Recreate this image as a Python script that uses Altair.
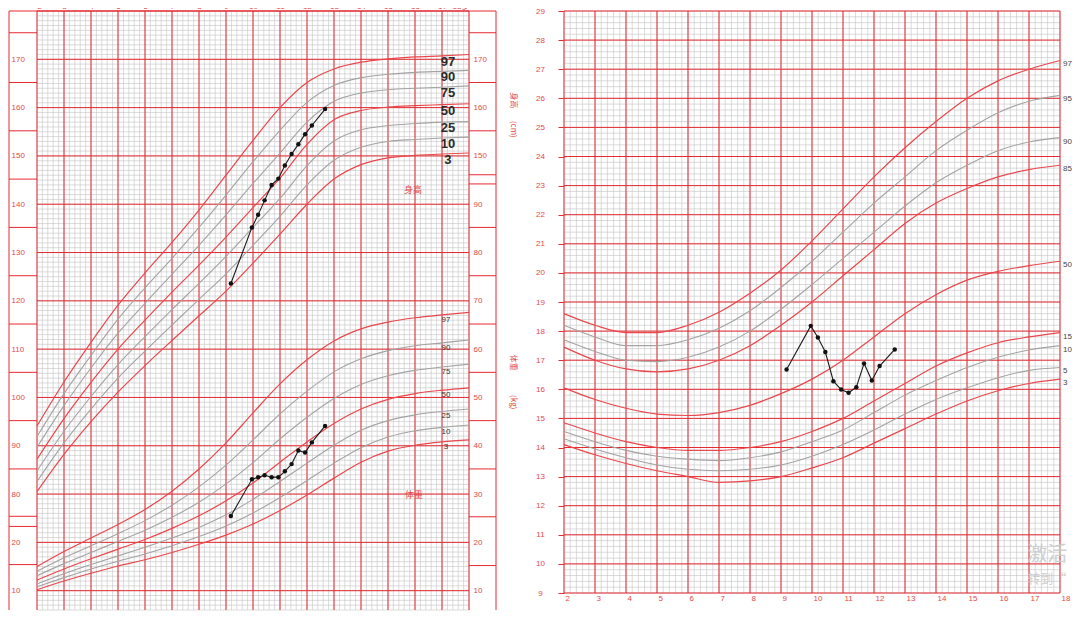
import altair as alt
import numpy as np
import pandas as pd

# ---------------- data ----------------
AGES = list(range(2, 19))

PCT_HW = ["3", "10", "25", "50", "75", "90", "97"]
RED_HW = ["3", "50", "97"]

HEIGHT = {
    "3":  [80.5, 88.2, 95.0, 101.1, 106.6, 111.8, 116.9, 122.0, 127.8, 133.8, 140.0, 145.2, 148.2, 149.6, 150.1, 150.4, 150.6],
    "10": [82.6, 90.6, 97.6, 104.0, 109.6, 115.0, 120.3, 125.6, 131.5, 137.5, 144.0, 149.1, 151.8, 153.0, 153.4, 153.7, 153.9],
    "25": [84.8, 93.0, 100.2, 106.8, 112.6, 118.2, 123.6, 129.2, 135.2, 141.2, 148.0, 153.1, 155.4, 156.3, 156.7, 157.0, 157.1],
    "50": [87.2, 95.6, 103.1, 110.0, 116.0, 121.8, 127.4, 133.2, 139.3, 145.4, 152.4, 157.5, 159.4, 160.1, 160.4, 160.6, 160.8],
    "75": [89.7, 98.3, 106.1, 113.3, 119.5, 125.5, 131.5, 137.8, 144.3, 150.6, 157.0, 161.3, 163.0, 163.7, 164.0, 164.2, 164.5],
    "90": [91.9, 100.8, 108.7, 116.2, 122.7, 128.8, 135.2, 141.9, 148.8, 155.3, 161.1, 164.6, 166.2, 166.9, 167.3, 167.5, 167.7],
    "97": [94.1, 103.2, 111.4, 119.1, 125.8, 132.1, 138.8, 146.0, 153.2, 160.0, 165.2, 168.0, 169.4, 170.1, 170.5, 170.7, 171.0],
}

WEIGHT = {
    "3":  [10.2, 12.0, 13.6, 15.1, 16.4, 17.9, 19.6, 21.5, 23.8, 26.6, 29.8, 33.3, 36.6, 38.9, 40.1, 40.8, 41.2],
    "10": [10.8, 12.7, 14.5, 16.1, 17.6, 19.3, 21.2, 23.4, 26.1, 29.3, 32.8, 36.4, 39.6, 41.8, 43.1, 43.8, 44.3],
    "25": [11.4, 13.5, 15.4, 17.2, 19.0, 20.9, 23.1, 25.7, 28.9, 32.6, 36.4, 40.1, 43.2, 45.2, 46.4, 47.1, 47.6],
    "50": [12.2, 14.5, 16.6, 18.6, 20.6, 22.9, 25.5, 28.6, 32.3, 36.6, 40.8, 44.6, 47.6, 49.6, 50.8, 51.5, 52.0],
    "75": [13.1, 15.6, 17.9, 20.2, 22.5, 25.2, 28.3, 32.1, 36.5, 41.4, 45.9, 49.8, 52.7, 54.5, 55.6, 56.3, 56.9],
    "90": [14.0, 16.8, 19.3, 21.8, 24.5, 27.7, 31.5, 36.0, 41.2, 46.6, 51.3, 55.3, 58.0, 59.7, 60.7, 61.3, 61.9],
    "97": [15.0, 18.1, 20.9, 23.7, 26.8, 30.6, 35.2, 40.6, 46.8, 52.8, 57.8, 61.7, 64.2, 65.6, 66.5, 67.1, 67.6],
}

PCT_BMI = ["3", "5", "10", "15", "50", "85", "90", "95", "97"]
RED_BMI = ["3", "15", "50", "85", "97"]

BMI = {
    "3":  [14.1, 13.75, 13.45, 13.2, 13.0, 12.8, 12.85, 13.0, 13.3, 13.65, 14.15, 14.65, 15.15, 15.6, 15.95, 16.2, 16.35],
    "5":  [14.3, 13.95, 13.65, 13.4, 13.25, 13.2, 13.25, 13.4, 13.7, 14.1, 14.6, 15.15, 15.65, 16.05, 16.4, 16.65, 16.75],
    "10": [14.55, 14.2, 13.9, 13.7, 13.6, 13.55, 13.65, 13.85, 14.2, 14.6, 15.2, 15.8, 16.3, 16.75, 17.1, 17.35, 17.5],
    "15": [14.85, 14.5, 14.2, 14.0, 13.9, 13.9, 14.0, 14.2, 14.55, 15.0, 15.6, 16.2, 16.8, 17.25, 17.6, 17.8, 17.95],
    "50": [16.05, 15.65, 15.35, 15.15, 15.1, 15.2, 15.45, 15.85, 16.35, 17.0, 17.8, 18.6, 19.25, 19.75, 20.05, 20.25, 20.4],
    "85": [17.45, 17.0, 16.7, 16.6, 16.7, 17.0, 17.5, 18.2, 19.0, 19.9, 20.8, 21.7, 22.4, 22.9, 23.3, 23.55, 23.7],
    "90": [17.7, 17.3, 17.0, 16.95, 17.1, 17.45, 18.0, 18.75, 19.6, 20.5, 21.4, 22.3, 23.1, 23.7, 24.2, 24.5, 24.65],
    "95": [18.2, 17.8, 17.5, 17.5, 17.7, 18.1, 18.7, 19.5, 20.4, 21.4, 22.4, 23.3, 24.2, 24.9, 25.5, 25.9, 26.1],
    "97": [18.6, 18.2, 17.95, 17.95, 18.2, 18.65, 19.3, 20.1, 21.1, 22.2, 23.3, 24.3, 25.2, 26.0, 26.6, 27.0, 27.3],
}

OBS_AGE = [9.18, 9.96, 10.19, 10.43, 10.69, 10.94, 11.18, 11.43, 11.68, 11.93, 12.18, 12.67]
OBS_HEIGHT = [123.6, 135.2, 137.8, 140.8, 144.0, 145.3, 148.0, 150.4, 152.4, 154.5, 156.3, 159.7]
OBS_WEIGHT = [25.45, 33.05, 33.5, 33.9, 33.5, 33.5, 34.7, 36.2, 39.0, 38.6, 40.7, 44.1]
OBS_BMI = [16.68, 18.18, 17.78, 17.28, 16.28, 15.99, 15.88, 16.07, 16.89, 16.30, 16.80, 17.37]

H_LABELS = [80, 90, 100, 110, 120, 130, 140, 150, 160, 170]
W_LABELS_LEFT = [10, 20]
H_LABELS_RIGHT = [150, 160, 170]
W_LABELS_RIGHT = [10, 20, 30, 40, 50, 60, 70, 80, 90]
BMI_LABELS = list(range(9, 30))

# ---------------- style ----------------
RED = "#e52a30"
RED_CURVE = "#e9474c"
GRAY_CURVE = "#a3a3a3"
GRID = "#c2c2c2"
LBL = "#e44848"
FONT = "Liberation Sans, Noto Sans CJK SC"
CJK = "Noto Sans CJK SC"

W_OFF = 50  # weight is drawn on the height scale shifted by 50

# ---------------- helpers ----------------
def long_table(table, pcts):
    rows = []
    for p in pcts:
        for a, v in zip(AGES, table[p]):
            rows.append({"age": a, "v": v, "pct": p})
    return pd.DataFrame(rows)


def panel_enc(xs, ys):
    def X(f, **kw):
        return alt.X(f, type="quantitative", scale=xs, axis=kw.pop("axis", None), **kw)

    def Y(f, **kw):
        return alt.Y(f, type="quantitative", scale=ys, axis=kw.pop("axis", None), **kw)

    return X, Y


def vrules(ages, y1, y2, X, Y, color, width):
    df = pd.DataFrame({"a": ages, "y1": y1, "y2": y2})
    return alt.Chart(df).mark_rule(color=color, strokeWidth=width).encode(
        x=X("a"), y=Y("y1"), y2="y2")


def hrules(vals, x1, x2, X, Y, color, width):
    df = pd.DataFrame({"v": vals, "x1": x1, "x2": x2})
    return alt.Chart(df).mark_rule(color=color, strokeWidth=width).encode(
        y=Y("v"), x=X("x1"), x2="x2")


# ================= LEFT PANEL: height & weight =================
W1, H1 = 432, 599
Y1MIN, Y1MAX = 56, 180
xs1 = alt.Scale(domain=[2, 18], nice=False, zero=False)
ys1 = alt.Scale(domain=[Y1MIN, Y1MAX], nice=False, zero=False)
X1, Y1 = panel_enc(xs1, ys1)

XL = 2 - 28 / 27.0   # outer frame left (age units)
XR = 19.0            # outer frame right

minor_v1 = np.round(np.arange(2, 18.0001, 0.2), 2)
minor_h1 = np.arange(Y1MIN, Y1MAX + 1, 1)
major_v1 = AGES
major_h1 = list(range(60, 181, 10))

LEFT_BOX = [175.5, 165.2, 155.2, 145.2, 135.2, 125.2, 115.2, 105.2, 95.2, 85.2, 75.4, 73.3, 65.4]
RIGHT_BOX = [175.5, 165.2, 155.2, 146.1, 144.2, 135.2, 125.2, 115.2, 105.2, 95.2, 85.2, 75.3, 65.2]

left_layers = []
mv = pd.DataFrame({"a": minor_v1, "y1": Y1MIN, "y2": Y1MAX})
left_layers.append(
    alt.Chart(mv).mark_rule(color=GRID, strokeWidth=0.6).encode(
        x=X1("a", axis=alt.Axis(orient="top", values=AGES, ticks=False, domain=False, grid=False,
                               labelPadding=1, labelFontSize=8, labelColor=LBL, labelFont=FONT,
                               labelExpr="datum.value == 18 ? '18岁' : datum.value", title=None)),
        y=Y1("y1"), y2="y2"))
left_layers.append(hrules(minor_h1, 2, 18, X1, Y1, GRID, 0.6))
left_layers.append(vrules(major_v1, Y1MIN, Y1MAX, X1, Y1, RED, 1.0))
mh = pd.DataFrame({"v": major_h1, "x1": 2, "x2": 18})
left_layers.append(
    alt.Chart(mh).mark_rule(color=RED, strokeWidth=1.0).encode(
        y=Y1("v", axis=alt.Axis(orient="left", values=[w + W_OFF for w in W_LABELS_LEFT] + H_LABELS,
                               labelExpr="datum.value < 75 ? datum.value - 50 : datum.value",
                               ticks=False, domain=False, grid=False, labelAlign="left",
                               labelPadding=26, labelFontSize=8, labelColor=LBL, labelFont=FONT,
                               title=None)),
        x=X1("x1"), x2="x2"))
rb = pd.DataFrame({"v": RIGHT_BOX, "x1": 18, "x2": XR})
left_layers.append(
    alt.Chart(rb).mark_rule(color=RED, strokeWidth=1.0).encode(
        y=Y1("v", axis=alt.Axis(orient="right", values=[w + W_OFF for w in W_LABELS_RIGHT] + H_LABELS_RIGHT,
                               labelExpr="datum.value < 145 ? datum.value - 50 : datum.value",
                               ticks=False, domain=False, grid=False, labelAlign="left",
                               labelPadding=4, labelFontSize=8, labelColor=LBL, labelFont=FONT,
                               title=None)),
        x=X1("x1"), x2="x2"))
left_layers.append(hrules(LEFT_BOX, XL, 2, X1, Y1, RED, 1.0))
left_layers.append(vrules([XL, XR], Y1MIN, Y1MAX, X1, Y1, RED, 1.0))
left_layers.append(hrules([Y1MAX], XL, XR, X1, Y1, RED, 1.2))

hdf = long_table(HEIGHT, PCT_HW)
wdf = long_table(WEIGHT, PCT_HW)
for df, shift in ((hdf, 0), (wdf, W_OFF)):
    for kind, col, sw in (("gray", GRAY_CURVE, 1.1), ("red", RED_CURVE, 1.2)):
        sub = df[df.pct.isin(RED_HW)] if kind == "red" else df[~df.pct.isin(RED_HW)]
        left_layers.append(
            alt.Chart(sub).transform_calculate(y=f"datum.v + {shift}")
            .mark_line(color=col, strokeWidth=sw, interpolate="monotone")
            .encode(x=X1("age"), y=Y1("y"), detail="pct:N"))

obs = pd.DataFrame({"age": OBS_AGE, "h": OBS_HEIGHT, "w": OBS_WEIGHT})
for expr in ("datum.h", f"datum.w + {W_OFF}"):
    base = alt.Chart(obs).transform_calculate(y=expr)
    left_layers.append(base.mark_line(color="#1a1a1a", strokeWidth=1.1).encode(x=X1("age"), y=Y1("y")))
    left_layers.append(base.mark_point(filled=True, color="#111", size=20, opacity=1).encode(x=X1("age"), y=Y1("y")))

hl = pd.DataFrame({"pct": PCT_HW, "v": [HEIGHT[p][15] for p in PCT_HW]})
left_layers.append(
    alt.Chart(hl).mark_text(font="Liberation Sans", fontSize=13, fontWeight="bold", color="#2a2a2a",
                            baseline="top", align="center", dy=0)
    .encode(x=alt.datum(17.22, scale=xs1, axis=None, type="quantitative"), y=Y1("v"), text="pct:N"))
wl = pd.DataFrame({"pct": PCT_HW, "v": [WEIGHT[p][15] + W_OFF for p in PCT_HW]})
left_layers.append(
    alt.Chart(wl).mark_text(font="Liberation Sans", fontSize=8, color="#333",
                            baseline="top", align="center", dy=1)
    .encode(x=alt.datum(17.15, scale=xs1, axis=None, type="quantitative"), y=Y1("v"), text="pct:N"))

ann1 = pd.DataFrame({
    "a": [15.93, 15.96],
    "v": [142.9, 79.9],
    "t": ["身高", "体重"],
})
left_layers.append(
    alt.Chart(ann1).mark_text(font=CJK, fontSize=9, color=LBL).encode(x=X1("a"), y=Y1("v"), text="t:N"))
ann_rot = pd.DataFrame({
    "a": [19.63, 19.63, 19.63, 19.63, 0.74, 0.74],
    "v": [161.5, 155.5, 107.2, 99.0, 143.0, 65.0],
    "t": ["身高", "(cm)", "体重", "(kg)", "身高", "体重"],
})
left_layers.append(
    alt.Chart(ann_rot).mark_text(font=CJK, fontSize=8, color=LBL, angle=90).encode(
        x=X1("a"), y=Y1("v"), text="t:N"))

left = alt.layer(*left_layers).resolve_axis(x="independent", y="independent").properties(width=W1, height=H1)

# ================= RIGHT PANEL: BMI =================
W2, H2 = 496, 582
xs2 = alt.Scale(domain=[2, 18], nice=False, zero=False)
ys2 = alt.Scale(domain=[9, 29], nice=False, zero=False)
X2, Y2 = panel_enc(xs2, ys2)

minor_v2 = np.round(np.arange(2, 18.0001, 0.2), 2)
minor_h2 = np.round(np.arange(9, 29.0001, 0.2), 2)

right_layers = []
mv2 = pd.DataFrame({"a": minor_v2, "y1": 9, "y2": 29})
right_layers.append(
    alt.Chart(mv2).mark_rule(color=GRID, strokeWidth=0.6).encode(
        x=X2("a", axis=alt.Axis(orient="bottom", values=AGES, ticks=False, domain=False, grid=False,
                               labelAlign="left", labelOffset=1, labelPadding=1, labelFontSize=8,
                               labelColor=LBL, labelFont=FONT, title=None)),
        y=Y2("y1"), y2="y2"))
right_layers.append(hrules(minor_h2, 2, 18, X2, Y2, GRID, 0.6))
right_layers.append(vrules(AGES, 9, 29, X2, Y2, RED, 1.0))
mh2 = pd.DataFrame({"v": BMI_LABELS, "x1": 2, "x2": 18})
right_layers.append(
    alt.Chart(mh2).mark_rule(color=RED, strokeWidth=1.0).encode(
        y=Y2("v", axis=alt.Axis(orient="left", values=BMI_LABELS, ticks=True, tickSize=6, tickColor=RED,
                               domain=False, grid=False, labelAlign="center", labelPadding=18,
                               labelFontSize=8, labelColor=LBL, labelFont=FONT, title=None)),
        x=X2("x1"), x2="x2"))

bdf = long_table(BMI, PCT_BMI)
for kind, col, sw in (("gray", GRAY_CURVE, 1.1), ("red", RED_CURVE, 1.2)):
    sub = bdf[bdf.pct.isin(RED_BMI)] if kind == "red" else bdf[~bdf.pct.isin(RED_BMI)]
    right_layers.append(
        alt.Chart(sub).mark_line(color=col, strokeWidth=sw, interpolate="monotone")
        .encode(x=X2("age"), y=Y2("v"), detail="pct:N"))

obs2 = pd.DataFrame({"age": OBS_AGE, "b": OBS_BMI})
right_layers.append(alt.Chart(obs2).mark_line(color="#1a1a1a", strokeWidth=1.1).encode(x=X2("age"), y=Y2("b")))
right_layers.append(alt.Chart(obs2).mark_point(filled=True, color="#111", size=20, opacity=1)
                    .encode(x=X2("age"), y=Y2("b")))

bl = pd.DataFrame({"pct": PCT_BMI, "v": [BMI[p][16] for p in PCT_BMI]})
right_layers.append(
    alt.Chart(bl).mark_text(font="Liberation Sans", fontSize=8, color="#444", align="left",
                            baseline="middle", dy=4)
    .encode(x=alt.datum(18.1, scale=xs2, axis=None, type="quantitative"), y=Y2("v"), text="pct:N"))

# screen watermark visible at the bottom right of the reference
wm = pd.DataFrame({"a": [16.94, 16.94], "v": [10.31, 9.47],
                   "t": ["激活 Windows", "转到“设置”以激活 Windows。"], "s": [20, 13]})
right_layers.append(
    alt.Chart(wm[wm.s == 20]).mark_text(font=CJK, fontSize=20, color="#cbcbcb", align="left",
                                         baseline="middle", limit=46, ellipsis="\u200b", opacity=0.9)
    .encode(x=X2("a"), y=Y2("v"), text="t:N"))
right_layers.append(
    alt.Chart(wm[wm.s == 13]).mark_text(font=CJK, fontSize=13, color="#cbcbcb", align="left",
                                         baseline="middle", limit=46, ellipsis="\u200b", opacity=0.9)
    .encode(x=X2("a"), y=Y2("v"), text="t:N"))

right = alt.layer(*right_layers).resolve_axis(x="independent", y="independent").properties(width=W2, height=H2)

chart = alt.hconcat(left, right, spacing=17).properties(
    padding={"left": -10, "top": -6, "right": 0, "bottom": 0},
    background="white",
).configure_view(stroke=None)

chart.save("out.html", embed_options={"renderer": "svg", "actions": False})
